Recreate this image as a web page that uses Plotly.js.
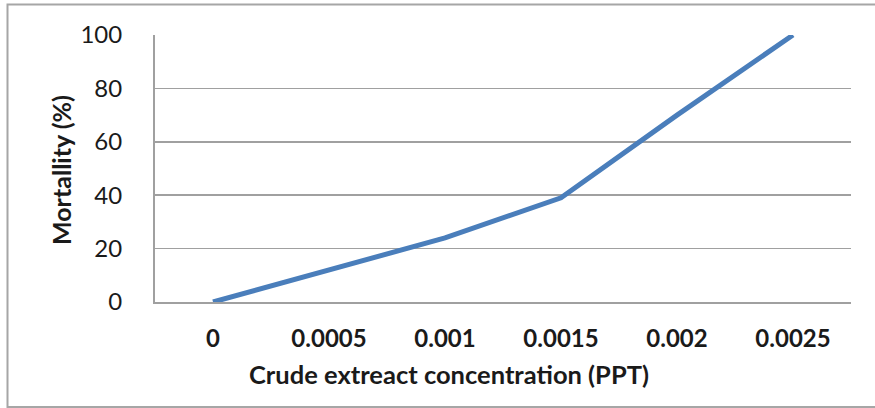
<!DOCTYPE html>
<html>
<head>
<meta charset="utf-8">
<script src="https://cdn.plot.ly/plotly-3.0.1.min.js"></script>
<style>
  html, body { margin: 0; padding: 0; background: #ffffff; }
  #chart { width: 875px; height: 408px; }
</style>
</head>
<body>
<div id="chart"></div>
<script>
// Data
const concentrations = ["0", "0.0005", "0.001", "0.0015", "0.002", "0.0025"];
const mortality = [0, 12, 24, 39, 70, 100];
const yTicks = [0, 20, 40, 60, 80, 100];

const xTitle = "Crude extreact concentration (PPT)";
const yTitle = "Mortallity (%)";

const W = 875, H = 408;
const L = 155, R = 24, T = 35, B = 106;
const pw = W - L - R, ph = H - T - B;
function px(x) { return (x - L) / pw; }
function py(y) { return (H - B - y) / ph; }

const trace = {
  type: "scatter",
  mode: "lines",
  x: concentrations,
  y: mortality,
  line: { color: "#4a7ebb", width: 5 },
  hoverinfo: "x+y"
};

const font = "Lato, 'Open Sans', sans-serif";
const ink = "#1a1a1a";

const layout = {
  width: W, height: H,
  margin: { l: L, r: R, t: T, b: B, pad: 0 },
  paper_bgcolor: "#ffffff",
  plot_bgcolor: "#ffffff",
  showlegend: false,
  font: { family: font, color: ink },
  xaxis: {
    type: "category",
    range: [-0.5, concentrations.length - 0.5],
    showgrid: false,
    zeroline: false,
    showline: true,
    linecolor: "#a0a0a0",
    linewidth: 2,
    ticks: "",
    ticklabelstandoff: 14,
    tickfont: { family: font, size: 24, color: ink, weight: 700 },
    fixedrange: true
  },
  yaxis: {
    range: [0, 100],
    tickvals: yTicks,
    showgrid: true,
    gridcolor: "#a0a0a0",
    gridwidth: 1.5,
    zeroline: false,
    showline: true,
    linecolor: "#a0a0a0",
    linewidth: 2,
    ticks: "",
    ticklabelstandoff: 26,
    tickfont: { family: font, size: 24, color: ink },
    fixedrange: true
  },
  annotations: [
    {
      text: "<b>" + xTitle + "</b>",
      xref: "paper", yref: "paper",
      x: px(449), y: py(374),
      xanchor: "center", yanchor: "middle",
      showarrow: false,
      font: { family: font, size: 25.5, color: ink }
    },
    {
      text: "<b>" + yTitle + "</b>",
      xref: "paper", yref: "paper",
      x: px(61), y: py(170),
      xanchor: "center", yanchor: "middle",
      textangle: -90,
      showarrow: false,
      font: { family: font, size: 25, color: ink }
    }
  ],
  shapes: [
    {
      type: "rect",
      xref: "paper", yref: "paper",
      x0: px(7.5), x1: px(890),
      y0: py(407), y1: py(4.5),
      line: { color: "#a6a6a6", width: 2 },
      fillcolor: "rgba(0,0,0,0)",
      layer: "below"
    }
  ]
};

Plotly.newPlot("chart", [trace], layout, { displayModeBar: false, staticPlot: true });
</script>
</body>
</html>
